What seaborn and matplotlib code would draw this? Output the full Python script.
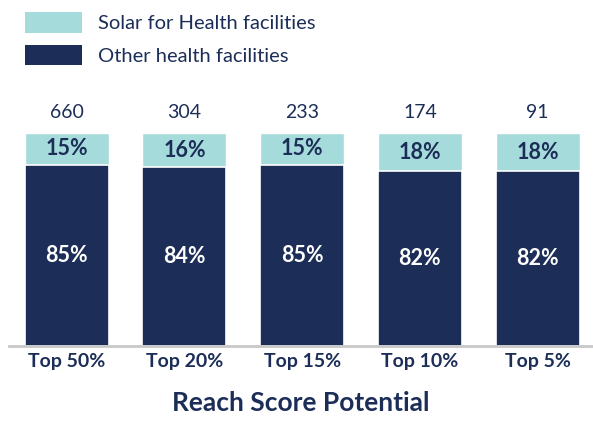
import numpy as np
import pandas as pd
import matplotlib
matplotlib.use("Agg")
import matplotlib.pyplot as plt
import seaborn as sns
from matplotlib.patches import Patch

# данные с графика
categories = ["Top 50%", "Top 20%", "Top 15%", "Top 10%", "Top 5%"]
totals = [660, 304, 233, 174, 91]
solar_pct = [15, 16, 15, 18, 18]
other_pct = [85, 84, 85, 82, 82]

NAVY = "#1c2e57"
TEAL = "#a6dbdb"

sns.set_theme(style="white")
plt.rcParams["font.family"] = ["Lato", "DejaVu Sans"]

df = pd.DataFrame({
    "category": categories,
    "total": totals,
    "solar": solar_pct,
    "other": other_pct,
})
df["full"] = df["solar"] + df["other"]

fig = plt.figure(figsize=(5.93, 4.21), dpi=100)
ax = fig.add_axes([9 / 593, 75 / 421, 584 / 593, 213 / 421])

# полная высота (бирюзовый), затем поверх нижняя часть (тёмно-синий)
sns.barplot(data=df, x="category", y="full", color=TEAL, width=0.713,
            saturation=1, ax=ax)
sns.barplot(data=df, x="category", y="other", color=NAVY, width=0.713,
            saturation=1, edgecolor="white", linewidth=1.2, ax=ax)

ax.set_xlim(-0.49, 4.47)
ax.set_ylim(0, 100)

# подписи внутри столбцов
for i, row in df.iterrows():
    ax.text(i, row["other"] / 2, f"{row['other']}%", ha="center", va="center",
            color="white", fontsize=15.5, fontweight="bold")
    ax.text(i, row["other"] + row["solar"] / 2, f"{row['solar']}%",
            ha="center", va="center", color=NAVY, fontsize=15.5, fontweight="bold")
    ax.text(i, 105.5, f"{row['total']}", ha="center", va="bottom",
            color=NAVY, fontsize=14, clip_on=False)

for s in ["top", "right", "left"]:
    ax.spines[s].set_visible(False)
ax.spines["bottom"].set_color("#c8c8c8")
ax.spines["bottom"].set_linewidth(2)
ax.set_yticks([])
ax.set_ylabel("")
ax.tick_params(axis="x", length=0, pad=5)
for lbl in ax.get_xticklabels():
    lbl.set_fontweight("bold")
    lbl.set_color(NAVY)
    lbl.set_fontsize(14)
ax.set_xlabel("Reach Score Potential", fontsize=19, fontweight="bold",
              color=NAVY, labelpad=15)

handles = [Patch(facecolor=TEAL, edgecolor="none"),
           Patch(facecolor=NAVY, edgecolor="none")]
fig.legend(handles, ["Solar for Health facilities", "Other health facilities"],
           loc="upper left", bbox_to_anchor=(25 / 593, 1 - 12 / 421),
           frameon=False, fontsize=14.5, handlelength=2.85, handleheight=1.2,
           labelcolor=NAVY, handletextpad=0.75, labelspacing=0.6,
           borderpad=0, borderaxespad=0)

fig.savefig("out.png", dpi=100)
